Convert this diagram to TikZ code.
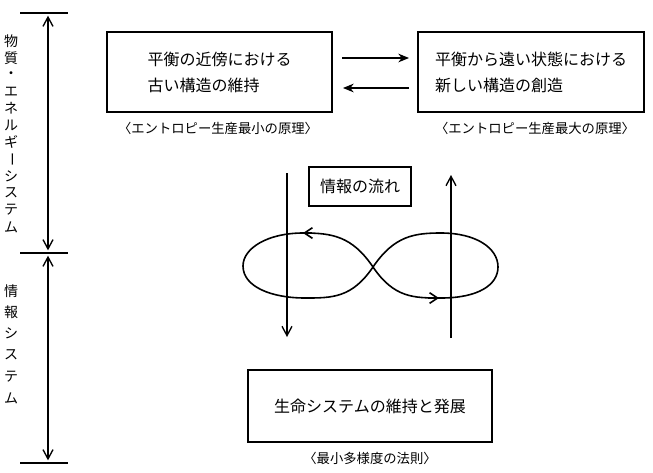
\documentclass[tikz,border=0pt]{standalone}
\usepackage{fontspec}
\setmainfont{Noto Sans CJK JP}
\usetikzlibrary{arrows.meta}
\begin{document}
\begin{tikzpicture}[x=0.75pt,y=-0.75pt,
  box/.style={draw,line width=1pt,inner sep=0pt,align=left,font=\fontsize{12}{19.5}\selectfont},
  lbl/.style={inner sep=0pt,font=\fontsize{10}{12}\selectfont},
  vtxt/.style={inner sep=0pt,font=\fontsize{10.5}{12}\selectfont},
  conn/.style={line width=0.9pt},
  harrow/.style={conn,-{Stealth[length=8pt,width=6.5pt,inset=2.5pt]}},
  varrow/.style={conn,-{Straight Barb[length=7pt,width=7.5pt,line width=1pt]}},
  dblarrow/.style={conn,{Straight Barb[length=7pt,width=7.5pt,line width=1pt]}-{Straight Barb[length=7pt,width=7.5pt,line width=1pt]}},
  loopline/.style={line width=1.2pt},
  looptip/.style={line width=1.2pt,-{Straight Barb[length=6pt,width=8pt]}},
  tick/.style={line width=1.1pt}]
\useasboundingbox (0,0) rectangle (653,472);

% left scale
\coordinate (t1l) at (20,13);  \coordinate (t1r) at (68,13);
\coordinate (t2l) at (20,253); \coordinate (t2r) at (68,253);
\coordinate (t3l) at (20,463); \coordinate (t3r) at (68,463);
\draw[tick] (t1l) -- (t1r);
\draw[tick] (t2l) -- (t2r);
\draw[tick] (t3l) -- (t3r);
\coordinate (a1) at (48,13);
\coordinate (a2) at (48,253);
\coordinate (a3) at (48,463);
\draw[dblarrow,shorten <=2pt,shorten >=2pt] (a1) -- (a2);
\draw[dblarrow,shorten <=2pt,shorten >=2pt] (a2) -- (a3);

\foreach \c [count=\i from 0] in {物,質,・,エ,ネ,ル,ギ,{\rotatebox[origin=c]{-90}{ー}},シ,ス,テ,ム}
  \node[vtxt] (m\i) at (11,{41+\i*16.9}) {\c};
\foreach \c [count=\i from 0] in {情,報,シ,ス,テ,ム}
  \node[vtxt] (j\i) at (11,{291+\i*21.4}) {\c};

% top boxes
\node[box,minimum width=168.75pt,minimum height=60pt] (b1) at (219.5,72)
  {平衡の近傍における\\古い構造の維持};
\node[box,minimum width=169.5pt,minimum height=60pt] (b2) at (531,72)
  {平衡から遠い状態における\\新しい構造の創造};
\coordinate (r1) at (342,58); \coordinate (r2) at (409,58);
\coordinate (l1) at (409,88); \coordinate (l2) at (343,88);
\draw[harrow] (r1) -- (r2);
\draw[harrow] (l1) -- (l2);
\node[lbl] (p1) at (218,128) {〈エントロピー生産最小の原理〉};
\node[lbl] (p2) at (535,128) {〈エントロピー生産最大の原理〉};

% information flow
\node[box,minimum width=76.5pt,minimum height=29.25pt] (f) at (360,186.5) {情報の流れ};
\coordinate (d1) at (287,173); \coordinate (d2) at (287,337);
\coordinate (u1) at (451,338); \coordinate (u2) at (451,175);
\draw[varrow] (d1) -- (d2);
\draw[varrow] (u1) -- (u2);

% figure eight
\coordinate (C) at (373,267);
\coordinate (T1) at (303,233);
\coordinate (B2) at (441,298);
\draw[loopline] (C) .. controls (352,236) and (332,233) .. (T1)
  .. controls (268,233) and (243,248) .. (243,266)
  .. controls (243,287) and (272,298) .. (305,298)
  .. controls (332,298) and (352,298) .. (C);
\draw[loopline] (C) .. controls (394,298) and (414,298) .. (B2)
  .. controls (478,298) and (498,285) .. (498,267)
  .. controls (498,248) and (476,233) .. (441,233)
  .. controls (414,233) and (394,236) .. (C);
\coordinate (T1s) at (312,233);
\coordinate (B2s) at (428,298);
\draw[looptip] (T1s) -- (T1);
\draw[looptip] (B2s) -- ([xshift=-1.5pt]B2);

% bottom box
\node[box,minimum width=183pt,minimum height=54pt,align=center] (g) at (370,406)
  {生命システムの維持と発展};
\node[lbl] (p3) at (370,458) {〈最小多様度の法則〉};
\end{tikzpicture}
\end{document}
